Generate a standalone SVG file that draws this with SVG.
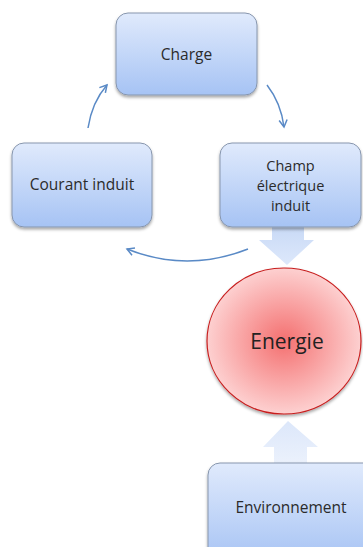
<svg xmlns="http://www.w3.org/2000/svg" width="363" height="547" viewBox="0 0 363 547">
<defs>
<linearGradient id="boxg" x1="0" y1="0" x2="0" y2="1">
<stop offset="0" stop-color="#e0eafc"/>
<stop offset="1" stop-color="#a6c3f4"/>
</linearGradient>
<linearGradient id="arrg" x1="0" y1="0" x2="0" y2="1">
<stop offset="0" stop-color="#c9daf6"/>
<stop offset="1" stop-color="#dde8fb"/>
</linearGradient>
<linearGradient id="arrg2" x1="0" y1="0" x2="0" y2="1">
<stop offset="0" stop-color="#dce7fa"/>
<stop offset="1" stop-color="#ebf1fc"/>
</linearGradient>
<radialGradient id="circg" cx="0.5" cy="0.5" r="0.5">
<stop offset="0" stop-color="#f47070"/>
<stop offset="1" stop-color="#fdd0d0"/>
</radialGradient>
<filter id="sh" x="-20%" y="-20%" width="140%" height="150%">
<feDropShadow dx="0" dy="2" stdDeviation="1.5" flood-color="#000" flood-opacity="0.35"/>
</filter>
<marker id="ah" viewBox="0 0 10 10" refX="8" refY="5" markerWidth="10" markerHeight="10" markerUnits="userSpaceOnUse" orient="auto">
<path d="M1,1 L8,5 L1,9" fill="none" stroke="#5a8ac6" stroke-width="1.5"/>
</marker>
<style>
.box{fill:url(#boxg);stroke:#8796ad;stroke-width:1;filter:url(#sh)}
.t{font-family:"Open Sans","Liberation Sans",sans-serif;font-size:15.5px;fill:#2b2b2b;text-anchor:middle}
.s{font-size:14.5px}
.c{fill:none;stroke:#5a8ac6;stroke-width:1.5;marker-end:url(#ah)}
</style>
</defs>
<rect width="363" height="547" fill="#fff"/>
<g id="connectors">
<path class="c" d="M88,128 Q92,102 107,85"/>
<path class="c" d="M267,85 Q281,103 284,127"/>
<path class="c" d="M248,249 Q187,273 127,249"/>
<path id="arrow-down" d="M272,227 L304,227 L304,240 L314,240 L287,265 L259,240 L272,240 Z" fill="url(#arrg)"/>
<path id="arrow-up" d="M288,421 L318,447 L307,447 L307,463 L274,463 L274,447 L263,447 Z" fill="url(#arrg2)"/>
</g>
<g id="charge">
<rect class="box" x="116" y="13" width="141" height="82" rx="12"/>
<text class="t" x="186.5" y="60">Charge</text>
</g>
<g id="courant">
<rect class="box" x="12" y="143" width="140" height="84" rx="12"/>
<text class="t" x="82" y="190">Courant induit</text>
</g>
<g id="champ">
<rect class="box" x="220" y="143" width="141" height="84" rx="12"/>
<text class="t s" x="290.5" y="171">Champ</text>
<text class="t s" x="290.5" y="191">électrique</text>
<text class="t s" x="290.5" y="211">induit</text>
</g>
<g id="energie">
<ellipse cx="284" cy="341" rx="77" ry="73" fill="url(#circg)" stroke="#c81e1e" stroke-width="1.2" filter="url(#sh)"/>
<text class="t" x="287" y="349" style="font-size:21px;fill:#222">Energie</text>
</g>
<g id="environnement">
<rect class="box" x="208" y="463" width="175" height="100" rx="12"/>
<text class="t" x="291" y="513">Environnement</text>
</g>
</svg>
